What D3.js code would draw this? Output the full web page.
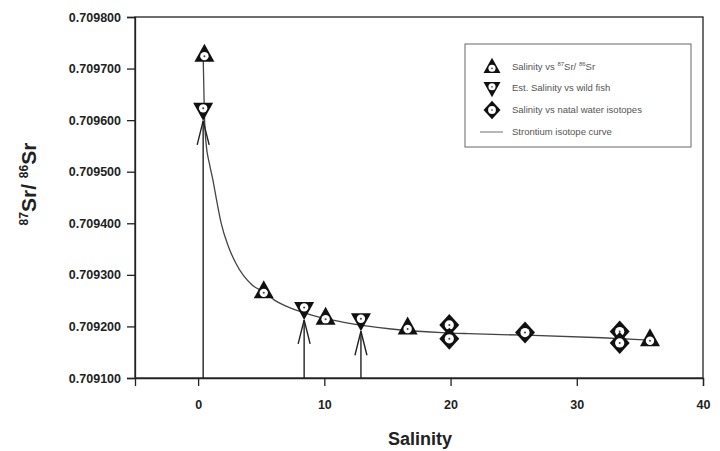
<!DOCTYPE html>
<html>
<head>
<script src="https://cdn.jsdelivr.net/npm/d3@7"></script>
<style>
  body { margin: 0; background: #fff; }
  text { font-family: "Liberation Sans", Arial, sans-serif; }
</style>
</head>
<body>
<div id="viz"></div>
<script>
// --- data ---
var triSal = [0.5, 5.2, 10.1, 16.6, 35.8];               // Salinity vs 87Sr/86Sr
var triSr  = [0.709727, 0.709268, 0.709217, 0.709198, 0.709175];
var invSal = [0.4, 8.4, 12.9];                           // Est. Salinity vs wild fish
var invSr  = [0.709620, 0.709234, 0.709212];
var diaSal = [19.9, 19.9, 25.9, 33.4, 33.4];             // Salinity vs natal water isotopes
var diaSr  = [0.709203, 0.709176, 0.709188, 0.709190, 0.709168];
var curveSal = [0.4, 0.5, 0.63, 0.9, 1.17, 1.5, 1.83, 2.4, 3.0, 4.3, 5.2, 6.05, 7.4, 9, 11.35, 15.3, 19.3, 21.4, 26, 32, 35.4];
var curveSr  = [0.709725, 0.709610, 0.709555, 0.709515, 0.709484, 0.709440, 0.709400, 0.709355, 0.709322, 0.709280, 0.709267, 0.709251, 0.709235, 0.709222, 0.709209, 0.709195, 0.709188, 0.709186, 0.709183, 0.709178, 0.709174];
var yTicks = [0.7091, 0.7092, 0.7093, 0.7094, 0.7095, 0.7096, 0.7097, 0.7098];
var xTicks = [0, 10, 20, 30, 40];
var legendLabels = ["Salinity vs ", "Est. Salinity vs wild fish", "Salinity vs natal water isotopes", "Strontium isotope curve"];

var W = 720, H = 451;
var pLeft = 135, pRight = 703, pTop = 17, pBottom = 378;

var svg = d3.select("#viz").append("svg").attr("width", W).attr("height", H);

var x = d3.scaleLinear().domain([-5, 40]).range([pLeft, pRight]);
var y = d3.scaleLinear().domain([0.7091, 0.7098]).range([pBottom, pTop]);

// frame
svg.append("rect")
  .attr("x", pLeft).attr("y", pTop)
  .attr("width", pRight - pLeft).attr("height", pBottom - pTop)
  .style("fill", "none").style("stroke", "#222").style("stroke-width", 1.3);

// axes
var yAxis = d3.axisLeft(y).tickValues(yTicks).tickSize(8).tickPadding(6)
  .tickFormat(d3.format(".6f"));
var gy = svg.append("g").attr("transform", "translate(" + pLeft + ",0)").call(yAxis);
var xAxis = d3.axisBottom(x).tickValues(xTicks).tickSize(8).tickPadding(14);
var gx = svg.append("g").attr("transform", "translate(0," + pBottom + ")").call(xAxis);
[gx, gy].forEach(function(g) {
  g.select(".domain").style("stroke", "#222").style("stroke-width", 1.3);
  g.selectAll(".tick line").style("stroke", "#222").style("stroke-width", 1.3);
  g.selectAll("text").style("font-size", "12.5px").style("font-weight", "bold").style("fill", "#222");
});

// axis titles
svg.append("text")
  .attr("x", 420).attr("y", 445)
  .style("text-anchor", "middle").style("font-size", "18px").style("font-weight", "bold")
  .style("fill", "#222").text("Salinity");
var yt = svg.append("text")
  .attr("transform", "translate(36,184) rotate(-90)")
  .style("text-anchor", "middle").style("font-size", "21px").style("font-weight", "bold")
  .style("fill", "#222");
yt.append("tspan").attr("dy", "-8").style("font-size", "12px").text("87");
yt.append("tspan").attr("dy", "8").text("Sr/ ");
yt.append("tspan").attr("dy", "-8").style("font-size", "12px").text("86");
yt.append("tspan").attr("dy", "8").text("Sr");

// strontium isotope curve
var curve = curveSal.map(function(s, i) { return [s, curveSr[i]]; });
svg.append("path")
  .datum(curve)
  .attr("d", d3.line().x(function(d) { return x(d[0]); }).y(function(d) { return y(d[1]); }).curve(d3.curveMonotoneX))
  .style("fill", "none").style("stroke", "#444").style("stroke-width", 1.3);

// arrows from x-axis up to the wild fish estimates
invSal.forEach(function(s, i) {
  var px = x(s), tip = y(invSr[i]) + 11;
  var g = svg.append("g").style("stroke", "#222").style("stroke-width", 1.4).style("fill", "none");
  g.append("line").attr("x1", px).attr("x2", px).attr("y1", tip).attr("y2", pBottom);
  g.append("path").attr("d", "M" + (px - 6) + "," + (tip + 24) + "L" + px + "," + tip + "L" + (px + 6) + "," + (tip + 24));
});

// marker drawing helpers
function markerTri(g, up) {
  var d = up ? "M0,-11L10,7L-10,7Z" : "M0,11L10,-7L-10,-7Z";
  g.append("path").attr("d", d).style("fill", "#111");
  g.append("circle").attr("cy", up ? 1.5 : -1.5).attr("r", 4.2).style("fill", "#fff");
  g.append("circle").attr("cy", up ? 1.5 : -1.5).attr("r", 1).style("fill", "#444");
}
function markerDia(g) {
  g.append("path").attr("d", "M0,-11L10,0L0,11L-10,0Z").style("fill", "#111");
  g.append("circle").attr("r", 4.6).style("fill", "#fff");
  g.append("circle").attr("r", 1).style("fill", "#444");
}

triSal.forEach(function(s, i) {
  markerTri(svg.append("g").attr("transform", "translate(" + x(s) + "," + y(triSr[i]) + ")"), true);
});
invSal.forEach(function(s, i) {
  markerTri(svg.append("g").attr("transform", "translate(" + x(s) + "," + y(invSr[i]) + ")"), false);
});
diaSal.forEach(function(s, i) {
  markerDia(svg.append("g").attr("transform", "translate(" + x(s) + "," + y(diaSr[i]) + ")"));
});

// legend
var lg = svg.append("g").attr("transform", "translate(465,44)");
lg.append("rect").attr("width", 226).attr("height", 103)
  .style("fill", "#fff").style("stroke", "#666").style("stroke-width", 1);
var rows = [23, 44, 66, 88];
markerTri(lg.append("g").attr("transform", "translate(27," + rows[0] + ") scale(0.85)"), true);
markerTri(lg.append("g").attr("transform", "translate(27," + rows[1] + ") scale(0.85)"), false);
markerDia(lg.append("g").attr("transform", "translate(27," + rows[2] + ") scale(0.85)"));
lg.append("line").attr("x1", 15).attr("x2", 38).attr("y1", rows[3]).attr("y2", rows[3])
  .style("stroke", "#888").style("stroke-width", 1.2);
legendLabels.forEach(function(t, i) {
  var tx = lg.append("text").attr("x", 47).attr("y", rows[i] + 3)
    .style("font-size", "9.5px").style("fill", "#555").text(t);
  if (i === 0) {
    tx.append("tspan").attr("dy", -4).style("font-size", "6px").text("87");
    tx.append("tspan").attr("dy", 4).text("Sr/ ");
    tx.append("tspan").attr("dy", -4).style("font-size", "6px").text("86");
    tx.append("tspan").attr("dy", 4).text("Sr");
  }
});
</script>
</body>
</html>
